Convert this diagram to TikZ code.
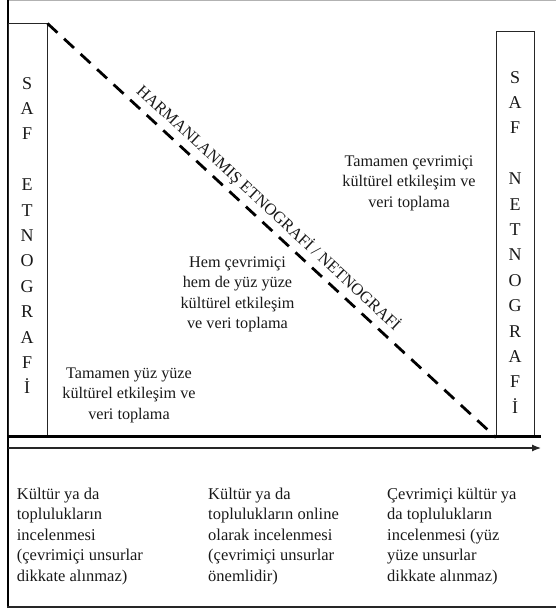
\documentclass[tikz,border=0pt]{standalone}
\usepackage{fontspec}
\setmainfont{Liberation Serif}
\usetikzlibrary{arrows.meta}
\begin{document}
\begin{tikzpicture}[x=1pt,y=-1pt,
  txt/.style={font=\fontsize{16.2}{20.3}\selectfont, inner sep=0pt, align=center, text=black!90},
  coltxt/.style={font=\fontsize{16.5}{20.5}\selectfont, inner sep=0pt, align=left, anchor=north west, text=black!90},
  letters/.style={font=\fontsize{18}{25.4}\selectfont, inner sep=0pt, align=center, anchor=north, text=black!90},
  sidebox/.style={draw=black!85, line width=1pt, inner sep=0pt, anchor=north west},
  dashline/.style={line width=2.8pt, dash pattern=on 13.5pt off 9pt},
]
\useasboundingbox (0,0) rectangle (555,612);
% outer frame
\draw[black!30, line width=1pt] (8,1) -- (560,1);
\draw[black, line width=1.3pt] (8,0.5) -- (8,607);
\draw[black!85, line width=1.3pt] (7.4,607) -- (560,607);
% side boxes
\node[sidebox, minimum width=38.5pt, minimum height=413pt] (lbox) at (8,23.5) {};
\node[sidebox, minimum width=38pt, minimum height=405.8pt] (rbox) at (496,30.7) {};
\node[letters] (ltxt) at (27.2,77) {S\\A\\F\\~\\E\\T\\N\\O\\G\\R\\A\\F\\İ};
\node[letters] (rtxt) at (515,71) {S\\A\\F\\~\\N\\E\\T\\N\\O\\G\\R\\A\\F\\İ};
% base lines
\coordinate (b0) at (8,436.5);
\coordinate (b1) at (541,436.5);
\coordinate (a0) at (8,448);
\coordinate (a1) at (541,448);
\draw[line width=2.2pt] (b0) -- (b1);
\draw[black!85, line width=1.2pt, -{Latex[length=9pt,width=7pt]}] (a0) -- (a1);
% diagonal
\draw[dashline] (lbox.north east) -- (rbox.south west);
\node[txt, font=\fontsize{16.5}{20.5}\selectfont, rotate=-42.77] (diag) at (268.5,208) {HARMANLANMIŞ ETNOGRAFİ / NETNOGRAFİ};
% region texts
\node[txt, anchor=north] (online) at (409,155.6) {Tamamen çevrimiçi\\kültürel etkileşim ve\\veri toplama};
\node[txt, anchor=north] (hybrid) at (237.5,256.5) {Hem çevrimiçi\\hem de yüz yüze\\kültürel etkileşim\\ve veri toplama};
\node[txt, anchor=north] (offline) at (129,367.8) {Tamamen yüz yüze\\kültürel etkileşim ve\\veri toplama};
% bottom columns
\node[coltxt] (c1) at (16.7,487.7) {Kültür ya da\\toplulukların\\incelenmesi\\(çevrimiçi unsurlar\\dikkate alınmaz)};
\node[coltxt] (c2) at (208,487.7) {Kültür ya da\\toplulukların online\\olarak incelenmesi\\(çevrimiçi unsurlar\\önemlidir)};
\node[coltxt] (c3) at (387,487.7) {Çevrimiçi kültür ya\\da toplulukların\\incelenmesi (yüz\\yüze unsurlar\\dikkate alınmaz)};
\end{tikzpicture}
\end{document}
